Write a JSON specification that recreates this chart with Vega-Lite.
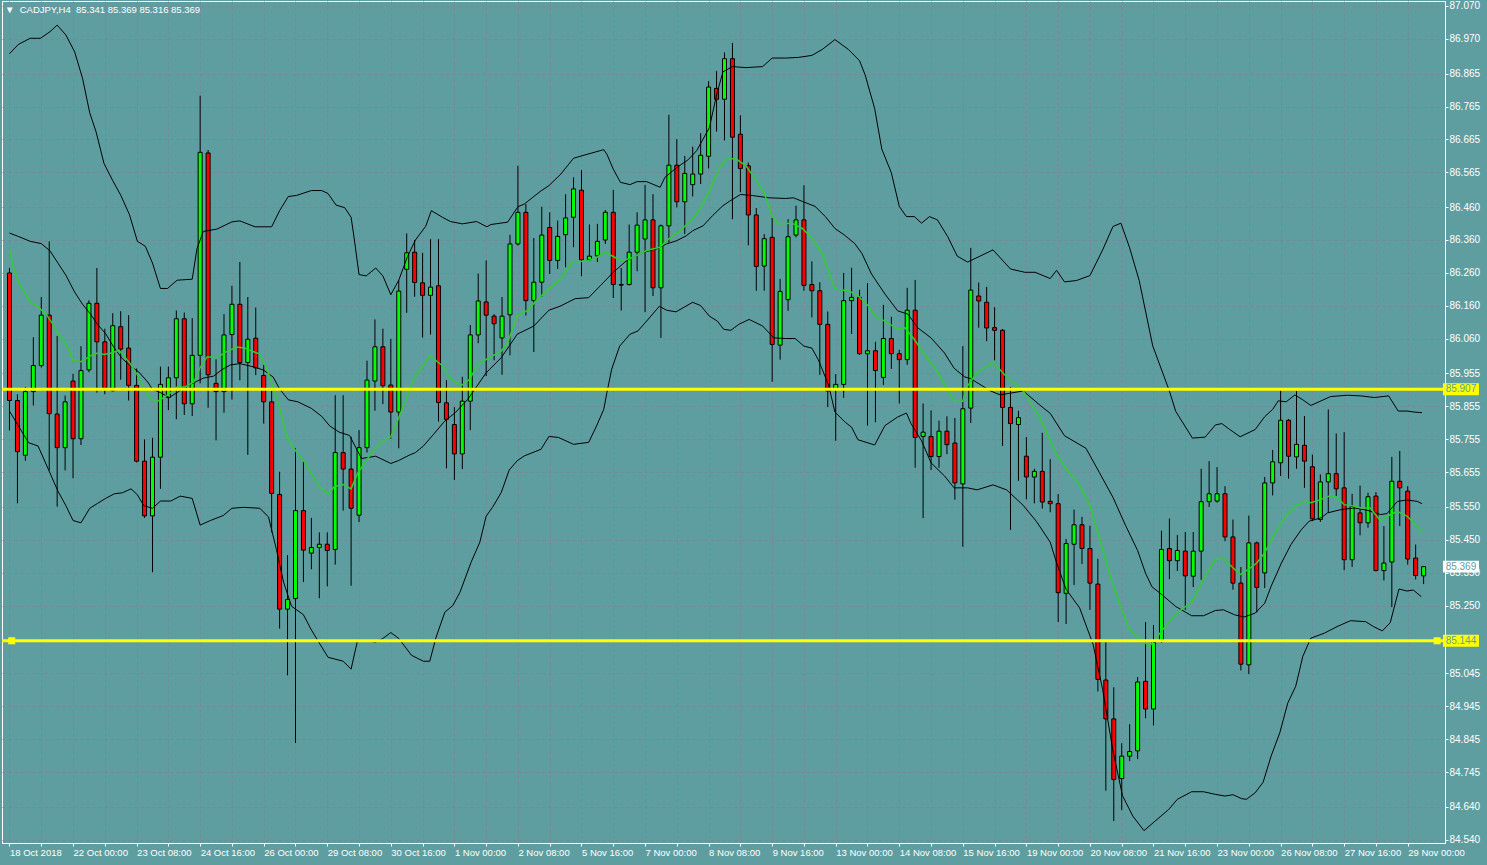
{
"$schema": "https://vega.github.io/schema/vega-lite/v6.json",
"width": 1443, "height": 842,
"autosize": {"type": "none"},
"padding": {"left": 2, "top": 1, "right": 42, "bottom": 22},
"background": "#5F9EA0",
"title": {"text": "▼\u00a0\u00a0CADJPY,H4\u00a0\u00a085.341 85.369 85.316 85.369", "anchor": "start", "frame": "group", "orient": "top", "offset": 0, "dx": 3, "dy": 14, "font": "Liberation Sans", "fontSize": 9.5, "fontWeight": "normal", "color": "white"},
"config": {"view": {"stroke": "white", "strokeWidth": 1}, "font": "Liberation Sans",
  "axis": {"labelOverlap": false, "labelBound": false, "labelFlush": false, "labelSeparation": 0}},
"datasets": {
"candles": [
{"i":0,"o":86.26,"h":86.275,"l":85.782,"c":85.873},{"i":1,"o":85.873,"h":85.892,"l":85.561,"c":85.718},{"i":2,"o":85.707,"h":85.914,"l":85.69,"c":85.9},{"i":3,"o":85.9,"h":86.065,"l":85.858,"c":85.979},{"i":4,"o":85.979,"h":86.187,"l":85.973,"c":86.132},{"i":5,"o":86.132,"h":86.356,"l":85.661,"c":85.833},{"i":6,"o":85.832,"h":86.069,"l":85.551,"c":85.73},{"i":7,"o":85.73,"h":85.888,"l":85.661,"c":85.869},{"i":8,"o":85.932,"h":85.954,"l":85.637,"c":85.757},{"i":9,"o":85.757,"h":86.038,"l":85.738,"c":85.964},
{"i":10,"o":85.966,"h":86.177,"l":85.959,"c":86.168},{"i":11,"o":86.168,"h":86.275,"l":85.897,"c":86.051},{"i":12,"o":86.051,"h":86.091,"l":85.892,"c":85.907},{"i":13,"o":85.903,"h":86.138,"l":85.9,"c":86.1},{"i":14,"o":86.097,"h":86.144,"l":85.936,"c":86.029},{"i":15,"o":86.032,"h":86.132,"l":85.873,"c":85.919},{"i":16,"o":85.919,"h":85.97,"l":85.685,"c":85.689},{"i":17,"o":85.689,"h":85.755,"l":85.517,"c":85.523},{"i":18,"o":85.523,"h":85.76,"l":85.352,"c":85.701},{"i":19,"o":85.701,"h":85.976,"l":85.605,"c":85.922},
{"i":20,"o":85.882,"h":85.976,"l":85.844,"c":85.942},{"i":21,"o":85.942,"h":86.146,"l":85.816,"c":86.121},{"i":22,"o":86.121,"h":86.14,"l":85.829,"c":85.863},{"i":23,"o":85.863,"h":86.123,"l":85.826,"c":86.01},{"i":24,"o":86.01,"h":86.798,"l":85.925,"c":86.626},{"i":25,"o":86.624,"h":86.633,"l":85.851,"c":85.951},{"i":26,"o":85.925,"h":85.998,"l":85.752,"c":85.9},{"i":27,"o":85.9,"h":86.135,"l":85.836,"c":86.072},{"i":28,"o":86.073,"h":86.221,"l":85.876,"c":86.165},{"i":29,"o":86.165,"h":86.293,"l":85.934,"c":85.988},
{"i":30,"o":85.988,"h":86.187,"l":85.708,"c":86.059},{"i":31,"o":86.062,"h":86.155,"l":85.95,"c":85.972},{"i":32,"o":85.949,"h":85.981,"l":85.803,"c":85.869},{"i":33,"o":85.869,"h":85.902,"l":85.473,"c":85.591},{"i":34,"o":85.588,"h":85.657,"l":85.181,"c":85.24},{"i":35,"o":85.24,"h":85.404,"l":85.039,"c":85.269},{"i":36,"o":85.272,"h":85.728,"l":84.834,"c":85.539},{"i":37,"o":85.539,"h":85.691,"l":85.322,"c":85.419},{"i":38,"o":85.41,"h":85.517,"l":85.361,"c":85.427},{"i":39,"o":85.427,"h":85.473,"l":85.273,"c":85.437},
{"i":40,"o":85.437,"h":85.473,"l":85.309,"c":85.418},{"i":41,"o":85.421,"h":85.889,"l":85.375,"c":85.715},{"i":42,"o":85.715,"h":85.889,"l":85.539,"c":85.665},{"i":43,"o":85.665,"h":85.763,"l":85.311,"c":85.546},{"i":44,"o":85.525,"h":85.783,"l":85.504,"c":85.73},{"i":45,"o":85.73,"h":85.994,"l":85.715,"c":85.935},{"i":46,"o":85.932,"h":86.119,"l":85.842,"c":86.036},{"i":47,"o":86.036,"h":86.091,"l":85.862,"c":85.918},{"i":48,"o":85.92,"h":86.06,"l":85.757,"c":85.838},{"i":49,"o":85.838,"h":86.238,"l":85.728,"c":86.205},
{"i":50,"o":86.271,"h":86.38,"l":86.139,"c":86.321},{"i":51,"o":86.323,"h":86.36,"l":86.188,"c":86.231},{"i":52,"o":86.23,"h":86.321,"l":86.064,"c":86.192},{"i":53,"o":86.192,"h":86.363,"l":86.073,"c":86.217},{"i":54,"o":86.221,"h":86.363,"l":85.809,"c":85.867},{"i":55,"o":85.866,"h":85.935,"l":85.667,"c":85.816},{"i":56,"o":85.8,"h":85.853,"l":85.632,"c":85.711},{"i":57,"o":85.711,"h":85.945,"l":85.665,"c":85.871},{"i":58,"o":85.871,"h":86.102,"l":85.783,"c":86.072},{"i":59,"o":86.072,"h":86.258,"l":86.047,"c":86.175},
{"i":60,"o":86.172,"h":86.298,"l":85.947,"c":86.132},{"i":61,"o":86.129,"h":86.135,"l":85.995,"c":86.106},{"i":62,"o":86.063,"h":86.187,"l":85.951,"c":86.129},{"i":63,"o":86.133,"h":86.376,"l":86.01,"c":86.348},{"i":64,"o":86.348,"h":86.585,"l":86.343,"c":86.444},{"i":65,"o":86.444,"h":86.469,"l":86.131,"c":86.176},{"i":66,"o":86.176,"h":86.366,"l":86.02,"c":86.232},{"i":67,"o":86.232,"h":86.461,"l":86.187,"c":86.375},{"i":68,"o":86.398,"h":86.444,"l":86.257,"c":86.298},{"i":69,"o":86.298,"h":86.419,"l":86.272,"c":86.371},
{"i":70,"o":86.376,"h":86.499,"l":86.277,"c":86.427},{"i":71,"o":86.429,"h":86.55,"l":86.338,"c":86.515},{"i":72,"o":86.511,"h":86.572,"l":86.25,"c":86.3},{"i":73,"o":86.3,"h":86.407,"l":86.296,"c":86.311},{"i":74,"o":86.312,"h":86.409,"l":86.293,"c":86.356},{"i":75,"o":86.36,"h":86.451,"l":86.348,"c":86.444},{"i":76,"o":86.444,"h":86.512,"l":86.184,"c":86.225},{"i":77,"o":86.225,"h":86.275,"l":86.146,"c":86.223},{"i":78,"o":86.225,"h":86.407,"l":86.222,"c":86.323},{"i":79,"o":86.323,"h":86.444,"l":86.265,"c":86.405},
{"i":80,"o":86.363,"h":86.527,"l":86.141,"c":86.421},{"i":81,"o":86.421,"h":86.499,"l":86.19,"c":86.215},{"i":82,"o":86.215,"h":86.407,"l":86.063,"c":86.403},{"i":83,"o":86.403,"h":86.74,"l":86.352,"c":86.587},{"i":84,"o":86.587,"h":86.666,"l":86.459,"c":86.476},{"i":85,"o":86.476,"h":86.615,"l":86.378,"c":86.562},{"i":86,"o":86.528,"h":86.643,"l":86.492,"c":86.56},{"i":87,"o":86.56,"h":86.684,"l":86.53,"c":86.617},{"i":88,"o":86.614,"h":86.842,"l":86.577,"c":86.824},{"i":89,"o":86.82,"h":86.873,"l":86.689,"c":86.787},
{"i":90,"o":86.787,"h":86.929,"l":86.662,"c":86.91},{"i":91,"o":86.91,"h":86.958,"l":86.423,"c":86.672},{"i":92,"o":86.681,"h":86.738,"l":86.505,"c":86.577},{"i":93,"o":86.585,"h":86.595,"l":86.344,"c":86.436},{"i":94,"o":86.436,"h":86.457,"l":86.206,"c":86.28},{"i":95,"o":86.281,"h":86.378,"l":86.206,"c":86.364},{"i":96,"o":86.368,"h":86.428,"l":85.93,"c":86.043},{"i":97,"o":86.041,"h":86.242,"l":85.997,"c":86.204},{"i":98,"o":86.179,"h":86.423,"l":86.145,"c":86.37},{"i":99,"o":86.375,"h":86.464,"l":86.368,"c":86.421},
{"i":100,"o":86.421,"h":86.526,"l":86.206,"c":86.222},{"i":101,"o":86.225,"h":86.295,"l":86.125,"c":86.206},{"i":102,"o":86.206,"h":86.232,"l":85.951,"c":86.104},{"i":103,"o":86.104,"h":86.143,"l":85.853,"c":85.902},{"i":104,"o":85.908,"h":85.953,"l":85.751,"c":85.922},{"i":105,"o":85.922,"h":86.26,"l":85.881,"c":86.176},{"i":106,"o":86.176,"h":86.276,"l":86.075,"c":86.186},{"i":107,"o":86.186,"h":86.209,"l":86.012,"c":86.015},{"i":108,"o":86.015,"h":86.229,"l":85.797,"c":86.024},{"i":109,"o":86.024,"h":86.051,"l":85.807,"c":85.964},
{"i":110,"o":85.943,"h":86.163,"l":85.92,"c":86.061},{"i":111,"o":86.061,"h":86.127,"l":85.969,"c":86.015},{"i":112,"o":86.015,"h":86.027,"l":85.864,"c":85.997},{"i":113,"o":85.997,"h":86.215,"l":85.981,"c":86.147},{"i":114,"o":86.147,"h":86.239,"l":85.669,"c":85.761},{"i":115,"o":85.764,"h":85.864,"l":85.516,"c":85.777},{"i":116,"o":85.764,"h":85.843,"l":85.662,"c":85.703},{"i":117,"o":85.703,"h":85.812,"l":85.669,"c":85.78},{"i":118,"o":85.78,"h":85.825,"l":85.71,"c":85.739},{"i":119,"o":85.744,"h":85.82,"l":85.572,"c":85.623},
{"i":120,"o":85.62,"h":86.038,"l":85.429,"c":85.848},{"i":121,"o":85.85,"h":86.336,"l":85.805,"c":86.208},{"i":122,"o":86.19,"h":86.231,"l":86.094,"c":86.175},{"i":123,"o":86.171,"h":86.218,"l":86.053,"c":86.093},{"i":124,"o":86.094,"h":86.156,"l":85.995,"c":86.086},{"i":125,"o":86.086,"h":86.09,"l":85.735,"c":85.852},{"i":126,"o":85.852,"h":85.914,"l":85.48,"c":85.803},{"i":127,"o":85.8,"h":85.842,"l":85.629,"c":85.821},{"i":128,"o":85.704,"h":85.762,"l":85.573,"c":85.641},{"i":129,"o":85.641,"h":85.666,"l":85.561,"c":85.658},
{"i":130,"o":85.658,"h":85.775,"l":85.545,"c":85.565},{"i":131,"o":85.567,"h":85.695,"l":85.534,"c":85.56},{"i":132,"o":85.56,"h":85.589,"l":85.201,"c":85.29},{"i":133,"o":85.288,"h":85.453,"l":85.195,"c":85.439},{"i":134,"o":85.437,"h":85.542,"l":85.313,"c":85.496},{"i":135,"o":85.496,"h":85.52,"l":85.377,"c":85.424},{"i":136,"o":85.424,"h":85.493,"l":85.238,"c":85.319},{"i":137,"o":85.316,"h":85.393,"l":84.99,"c":85.027},{"i":138,"o":85.025,"h":85.145,"l":84.689,"c":84.907},{"i":139,"o":84.907,"h":85.003,"l":84.597,"c":84.723},
{"i":140,"o":84.726,"h":84.833,"l":84.63,"c":84.794},{"i":141,"o":84.794,"h":84.891,"l":84.779,"c":84.808},{"i":142,"o":84.81,"h":85.034,"l":84.785,"c":85.019},{"i":143,"o":85.021,"h":85.201,"l":84.909,"c":84.937},{"i":144,"o":84.937,"h":85.192,"l":84.887,"c":85.139},{"i":145,"o":85.142,"h":85.478,"l":85.138,"c":85.421},{"i":146,"o":85.424,"h":85.515,"l":85.331,"c":85.387},{"i":147,"o":85.387,"h":85.465,"l":85.356,"c":85.418},{"i":148,"o":85.416,"h":85.474,"l":85.238,"c":85.341},{"i":149,"o":85.34,"h":85.474,"l":85.307,"c":85.416},
{"i":150,"o":85.416,"h":85.666,"l":85.329,"c":85.566},{"i":151,"o":85.566,"h":85.689,"l":85.55,"c":85.59},{"i":152,"o":85.568,"h":85.671,"l":85.563,"c":85.59},{"i":153,"o":85.59,"h":85.613,"l":85.446,"c":85.459},{"i":154,"o":85.459,"h":85.512,"l":85.299,"c":85.319},{"i":155,"o":85.319,"h":85.368,"l":85.054,"c":85.073},{"i":156,"o":85.071,"h":85.524,"l":85.043,"c":85.441},{"i":157,"o":85.441,"h":85.445,"l":85.23,"c":85.306},{"i":158,"o":85.35,"h":85.641,"l":85.304,"c":85.623},{"i":159,"o":85.623,"h":85.723,"l":85.585,"c":85.687},
{"i":160,"o":85.684,"h":85.909,"l":85.644,"c":85.813},{"i":161,"o":85.813,"h":85.817,"l":85.636,"c":85.704},{"i":162,"o":85.702,"h":85.902,"l":85.666,"c":85.74},{"i":163,"o":85.737,"h":85.826,"l":85.608,"c":85.689},{"i":164,"o":85.672,"h":85.709,"l":85.507,"c":85.514},{"i":165,"o":85.512,"h":85.649,"l":85.505,"c":85.626},{"i":166,"o":85.626,"h":85.846,"l":85.532,"c":85.651},{"i":167,"o":85.651,"h":85.773,"l":85.583,"c":85.605},{"i":168,"o":85.608,"h":85.777,"l":85.358,"c":85.39},{"i":169,"o":85.39,"h":85.59,"l":85.368,"c":85.552},
{"i":170,"o":85.532,"h":85.615,"l":85.464,"c":85.502},{"i":171,"o":85.502,"h":85.593,"l":85.487,"c":85.581},{"i":172,"o":85.583,"h":85.595,"l":85.355,"c":85.357},{"i":173,"o":85.357,"h":85.492,"l":85.327,"c":85.38},{"i":174,"o":85.383,"h":85.702,"l":85.246,"c":85.628},{"i":175,"o":85.628,"h":85.72,"l":85.492,"c":85.608},{"i":176,"o":85.598,"h":85.613,"l":85.375,"c":85.392},{"i":177,"o":85.395,"h":85.436,"l":85.33,"c":85.342},{"i":178,"o":85.341,"h":85.369,"l":85.316,"c":85.369}
],
"bb": [
{"s":"u","i":0,"v":86.925},{"s":"u","i":1.1,"v":86.953},{"s":"u","i":2.6,"v":86.972},{"s":"u","i":3.9,"v":86.972},{"s":"u","i":5.1,"v":86.992},{"s":"u","i":6.0,"v":87.012},{"s":"u","i":7.1,"v":86.982},{"s":"u","i":8.2,"v":86.931},{"s":"u","i":9.2,"v":86.85},{"s":"u","i":10.1,"v":86.746},{"s":"u","i":10.9,"v":86.688},{"s":"u","i":11.9,"v":86.592},{"s":"u","i":13,"v":86.54},{"s":"u","i":14,"v":86.496},{"s":"u","i":15.1,"v":86.437},{"s":"u","i":16.1,"v":86.356},{"s":"u","i":17.1,"v":86.341},{"s":"u","i":18,"v":86.29},{"s":"u","i":19,"v":86.213},{"s":"u","i":19.9,"v":86.213},{"s":"u","i":21.1,"v":86.238},{"s":"u","i":23,"v":86.241},{"s":"u","i":23.6,"v":86.334},{"s":"u","i":24.4,"v":86.386},{"s":"u","i":26.1,"v":86.393},{"s":"u","i":28,"v":86.415},{"s":"u","i":29,"v":86.418},{"s":"u","i":30.9,"v":86.4},{"s":"u","i":33,"v":86.4},{"s":"u","i":34,"v":86.449},{"s":"u","i":35.1,"v":86.492},{"s":"u","i":36.1,"v":86.495},{"s":"u","i":38,"v":86.51},{"s":"u","i":39.3,"v":86.51},{"s":"u","i":40.1,"v":86.501},{"s":"u","i":41.1,"v":86.466},{"s":"u","i":42.2,"v":86.458},{"s":"u","i":43,"v":86.429},{"s":"u","i":43.4,"v":86.363},{"s":"u","i":44,"v":86.255},{"s":"u","i":44.9,"v":86.251},{"s":"u","i":46.1,"v":86.275},{"s":"u","i":47,"v":86.251},{"s":"u","i":48,"v":86.194},{"s":"u","i":49,"v":86.238},{"s":"u","i":50.1,"v":86.31},{"s":"u","i":51.1,"v":86.36},{"s":"u","i":52.4,"v":86.402},{"s":"u","i":53.1,"v":86.449},{"s":"u","i":54.5,"v":86.429},{"s":"u","i":55.5,"v":86.416},{"s":"u","i":57,"v":86.409},{"s":"u","i":58.8,"v":86.416},{"s":"u","i":60.1,"v":86.4},{"s":"u","i":60.6,"v":86.407},{"s":"u","i":62.7,"v":86.414},{"s":"u","i":64,"v":86.461},{"s":"u","i":64.8,"v":86.469},{"s":"u","i":66.9,"v":86.509},{"s":"u","i":67.9,"v":86.525},{"s":"u","i":69.4,"v":86.56},{"s":"u","i":70.4,"v":86.59},{"s":"u","i":71,"v":86.608},{"s":"u","i":72.7,"v":86.62},{"s":"u","i":74.8,"v":86.634},{"s":"u","i":75.2,"v":86.62},{"s":"u","i":76,"v":86.575},{"s":"u","i":76.9,"v":86.535},{"s":"u","i":78.1,"v":86.528},{"s":"u","i":79,"v":86.537},{"s":"u","i":80.2,"v":86.537},{"s":"u","i":81.9,"v":86.52},{"s":"u","i":82.5,"v":86.55},{"s":"u","i":84,"v":86.58},{"s":"u","i":85.4,"v":86.603},{"s":"u","i":86.5,"v":86.631},{"s":"u","i":88.1,"v":86.701},{"s":"u","i":89,"v":86.8},{"s":"u","i":89.8,"v":86.87},{"s":"u","i":91,"v":86.886},{"s":"u","i":92.7,"v":86.883},{"s":"u","i":94.8,"v":86.886},{"s":"u","i":96,"v":86.912},{"s":"u","i":97.7,"v":86.912},{"s":"u","i":99.3,"v":86.914},{"s":"u","i":101,"v":86.92},{"s":"u","i":102.3,"v":86.938},{"s":"u","i":103.9,"v":86.968},{"s":"u","i":105.6,"v":86.938},{"s":"u","i":107,"v":86.904},{"s":"u","i":107.7,"v":86.861},{"s":"u","i":108.9,"v":86.759},{"s":"u","i":109.8,"v":86.636},{"s":"u","i":111,"v":86.564},{"s":"u","i":112,"v":86.462},{"s":"u","i":112.9,"v":86.431},{"s":"u","i":113.9,"v":86.431},{"s":"u","i":114.8,"v":86.411},{"s":"u","i":115.8,"v":86.431},{"s":"u","i":116.8,"v":86.421},{"s":"u","i":118.1,"v":86.37},{"s":"u","i":119.3,"v":86.311},{"s":"u","i":120.6,"v":86.293},{"s":"u","i":123.8,"v":86.33},{"s":"u","i":126,"v":86.272},{"s":"u","i":127.8,"v":86.262},{"s":"u","i":129.1,"v":86.262},{"s":"u","i":131,"v":86.243},{"s":"u","i":131.8,"v":86.268},{"s":"u","i":132.8,"v":86.233},{"s":"u","i":134.3,"v":86.237},{"s":"u","i":136,"v":86.252},{"s":"u","i":137.6,"v":86.33},{"s":"u","i":138.9,"v":86.401},{"s":"u","i":139.9,"v":86.411},{"s":"u","i":141,"v":86.336},{"s":"u","i":142.2,"v":86.237},{"s":"u","i":143.9,"v":86.039},{"s":"u","i":146,"v":85.902},{"s":"u","i":146.8,"v":85.84},{"s":"u","i":148.9,"v":85.759},{"s":"u","i":150.5,"v":85.762},{"s":"u","i":151.8,"v":85.799},{"s":"u","i":152.6,"v":85.803},{"s":"u","i":153.6,"v":85.785},{"s":"u","i":154.9,"v":85.763},{"s":"u","i":156.8,"v":85.785},{"s":"u","i":158,"v":85.824},{"s":"u","i":159,"v":85.846},{"s":"u","i":159.7,"v":85.872},{"s":"u","i":160.7,"v":85.869},{"s":"u","i":161.8,"v":85.89},{"s":"u","i":162.8,"v":85.875},{"s":"u","i":163.8,"v":85.858},{"s":"u","i":165.1,"v":85.872},{"s":"u","i":166.3,"v":85.885},{"s":"u","i":168.4,"v":85.889},{"s":"u","i":170.1,"v":85.887},{"s":"u","i":171.8,"v":85.882},{"s":"u","i":173.6,"v":85.887},{"s":"u","i":174.8,"v":85.841},{"s":"u","i":175.9,"v":85.841},{"s":"u","i":176.8,"v":85.838},{"s":"u","i":177.8,"v":85.836},
{"s":"m","i":0,"v":86.381},{"s":"m","i":1.1,"v":86.371},{"s":"m","i":2.6,"v":86.356},{"s":"m","i":4,"v":86.349},{"s":"m","i":5.1,"v":86.327},{"s":"m","i":6.1,"v":86.29},{"s":"m","i":7.1,"v":86.253},{"s":"m","i":8.2,"v":86.202},{"s":"m","i":9.2,"v":86.165},{"s":"m","i":10.3,"v":86.132},{"s":"m","i":11.1,"v":86.103},{"s":"m","i":12.1,"v":86.076},{"s":"m","i":13.2,"v":86.032},{"s":"m","i":14.2,"v":86.0},{"s":"m","i":15.3,"v":85.976},{"s":"m","i":16.3,"v":85.959},{"s":"m","i":17.4,"v":85.929},{"s":"m","i":18,"v":85.907},{"s":"m","i":19,"v":85.897},{"s":"m","i":20.1,"v":85.882},{"s":"m","i":21.1,"v":85.897},{"s":"m","i":22.1,"v":85.914},{"s":"m","i":23.4,"v":85.929},{"s":"m","i":24.4,"v":85.941},{"s":"m","i":25.7,"v":85.947},{"s":"m","i":26.7,"v":85.966},{"s":"m","i":27.8,"v":85.981},{"s":"m","i":29,"v":85.985},{"s":"m","i":30.9,"v":85.974},{"s":"m","i":32,"v":85.965},{"s":"m","i":33.2,"v":85.944},{"s":"m","i":34,"v":85.908},{"s":"m","i":35.1,"v":85.875},{"s":"m","i":36.3,"v":85.869},{"s":"m","i":38,"v":85.849},{"s":"m","i":39.3,"v":85.825},{"s":"m","i":40.3,"v":85.796},{"s":"m","i":41.5,"v":85.777},{"s":"m","i":42.8,"v":85.767},{"s":"m","i":43.6,"v":85.73},{"s":"m","i":44.3,"v":85.697},{"s":"m","i":46.1,"v":85.704},{"s":"m","i":48,"v":85.682},{"s":"m","i":49,"v":85.691},{"s":"m","i":50.3,"v":85.707},{"s":"m","i":51.1,"v":85.715},{"s":"m","i":52.1,"v":85.735},{"s":"m","i":53.4,"v":85.771},{"s":"m","i":54.8,"v":85.811},{"s":"m","i":56.1,"v":85.836},{"s":"m","i":57.7,"v":85.877},{"s":"m","i":60,"v":85.957},{"s":"m","i":61.9,"v":86.003},{"s":"m","i":62.9,"v":86.038},{"s":"m","i":63.9,"v":86.074},{"s":"m","i":66,"v":86.099},{"s":"m","i":67.9,"v":86.147},{"s":"m","i":69.3,"v":86.159},{"s":"m","i":71.2,"v":86.182},{"s":"m","i":72.9,"v":86.185},{"s":"m","i":74.4,"v":86.222},{"s":"m","i":76,"v":86.262},{"s":"m","i":77.7,"v":86.298},{"s":"m","i":79.8,"v":86.323},{"s":"m","i":81.5,"v":86.333},{"s":"m","i":82.7,"v":86.348},{"s":"m","i":84,"v":86.358},{"s":"m","i":85.2,"v":86.373},{"s":"m","i":86,"v":86.388},{"s":"m","i":87.3,"v":86.403},{"s":"m","i":88.5,"v":86.434},{"s":"m","i":89.8,"v":86.464},{"s":"m","i":90.6,"v":86.477},{"s":"m","i":92,"v":86.498},{"s":"m","i":93.5,"v":86.495},{"s":"m","i":95.6,"v":86.488},{"s":"m","i":97.7,"v":86.486},{"s":"m","i":98.7,"v":86.488},{"s":"m","i":99.8,"v":86.477},{"s":"m","i":101.4,"v":86.462},{"s":"m","i":102.7,"v":86.431},{"s":"m","i":103.9,"v":86.395},{"s":"m","i":105.1,"v":86.375},{"s":"m","i":106.4,"v":86.349},{"s":"m","i":107.3,"v":86.319},{"s":"m","i":108.5,"v":86.257},{"s":"m","i":110.2,"v":86.196},{"s":"m","i":111.8,"v":86.145},{"s":"m","i":113.1,"v":86.135},{"s":"m","i":114.3,"v":86.094},{"s":"m","i":116,"v":86.063},{"s":"m","i":117.7,"v":86.017},{"s":"m","i":118.9,"v":85.971},{"s":"m","i":120.2,"v":85.945},{"s":"m","i":121,"v":85.939},{"s":"m","i":123.5,"v":85.902},{"s":"m","i":124.7,"v":85.89},{"s":"m","i":127.6,"v":85.902},{"s":"m","i":129.7,"v":85.859},{"s":"m","i":131,"v":85.834},{"s":"m","i":132.8,"v":85.766},{"s":"m","i":135.5,"v":85.728},{"s":"m","i":137.2,"v":85.654},{"s":"m","i":138.9,"v":85.579},{"s":"m","i":140.5,"v":85.493},{"s":"m","i":142,"v":85.418},{"s":"m","i":143,"v":85.349},{"s":"m","i":143.8,"v":85.308},{"s":"m","i":145.1,"v":85.283},{"s":"m","i":146.8,"v":85.248},{"s":"m","i":148.8,"v":85.22},{"s":"m","i":150.3,"v":85.22},{"s":"m","i":151.8,"v":85.236},{"s":"m","i":152.8,"v":85.238},{"s":"m","i":154.2,"v":85.223},{"s":"m","i":155.4,"v":85.216},{"s":"m","i":156.8,"v":85.228},{"s":"m","i":158,"v":85.258},{"s":"m","i":158.8,"v":85.309},{"s":"m","i":160.1,"v":85.38},{"s":"m","i":161.3,"v":85.436},{"s":"m","i":162.6,"v":85.481},{"s":"m","i":163.6,"v":85.507},{"s":"m","i":165.1,"v":85.517},{"s":"m","i":165.9,"v":85.532},{"s":"m","i":167.6,"v":85.542},{"s":"m","i":169.3,"v":85.547},{"s":"m","i":170.9,"v":85.54},{"s":"m","i":172.6,"v":85.527},{"s":"m","i":173.4,"v":85.53},{"s":"m","i":174.7,"v":85.567},{"s":"m","i":175.9,"v":85.571},{"s":"m","i":177.2,"v":85.567},{"s":"m","i":177.8,"v":85.56},
{"s":"d","i":0,"v":85.841},{"s":"d","i":1.1,"v":85.797},{"s":"d","i":2.4,"v":85.745},{"s":"d","i":3.6,"v":85.735},{"s":"d","i":4.9,"v":85.664},{"s":"d","i":6.1,"v":85.598},{"s":"d","i":7.1,"v":85.554},{"s":"d","i":8,"v":85.509},{"s":"d","i":9,"v":85.502},{"s":"d","i":10.1,"v":85.546},{"s":"d","i":11.1,"v":85.561},{"s":"d","i":12.1,"v":85.576},{"s":"d","i":13.2,"v":85.59},{"s":"d","i":14.2,"v":85.593},{"s":"d","i":15.3,"v":85.605},{"s":"d","i":16.1,"v":85.587},{"s":"d","i":16.9,"v":85.554},{"s":"d","i":18,"v":85.546},{"s":"d","i":19,"v":85.568},{"s":"d","i":20.3,"v":85.568},{"s":"d","i":21.5,"v":85.583},{"s":"d","i":23,"v":85.576},{"s":"d","i":24,"v":85.495},{"s":"d","i":25.3,"v":85.509},{"s":"d","i":26.9,"v":85.524},{"s":"d","i":28,"v":85.546},{"s":"d","i":29.5,"v":85.549},{"s":"d","i":31.5,"v":85.546},{"s":"d","i":32.6,"v":85.52},{"s":"d","i":33.6,"v":85.421},{"s":"d","i":34.5,"v":85.322},{"s":"d","i":35.5,"v":85.249},{"s":"d","i":37,"v":85.223},{"s":"d","i":38,"v":85.177},{"s":"d","i":39,"v":85.137},{"s":"d","i":40.1,"v":85.094},{"s":"d","i":42,"v":85.082},{"s":"d","i":43,"v":85.058},{"s":"d","i":43.8,"v":85.144},{"s":"d","i":44.9,"v":85.144},{"s":"d","i":46.1,"v":85.14},{"s":"d","i":47,"v":85.151},{"s":"d","i":48,"v":85.169},{"s":"d","i":49,"v":85.151},{"s":"d","i":50.6,"v":85.1},{"s":"d","i":52.1,"v":85.082},{"s":"d","i":52.9,"v":85.082},{"s":"d","i":53.7,"v":85.155},{"s":"d","i":54.8,"v":85.231},{"s":"d","i":55.8,"v":85.251},{"s":"d","i":56.7,"v":85.291},{"s":"d","i":58.1,"v":85.382},{"s":"d","i":59.2,"v":85.443},{"s":"d","i":60,"v":85.522},{"s":"d","i":60.8,"v":85.549},{"s":"d","i":61.9,"v":85.594},{"s":"d","i":62.9,"v":85.662},{"s":"d","i":63.9,"v":85.69},{"s":"d","i":64.8,"v":85.705},{"s":"d","i":66.9,"v":85.725},{"s":"d","i":67.9,"v":85.764},{"s":"d","i":69.1,"v":85.761},{"s":"d","i":71,"v":85.74},{"s":"d","i":72.9,"v":85.746},{"s":"d","i":73.9,"v":85.796},{"s":"d","i":74.8,"v":85.846},{"s":"d","i":75.2,"v":85.897},{"s":"d","i":75.8,"v":85.968},{"s":"d","i":76.8,"v":86.038},{"s":"d","i":78.1,"v":86.074},{"s":"d","i":79.1,"v":86.084},{"s":"d","i":80.2,"v":86.114},{"s":"d","i":81.8,"v":86.159},{"s":"d","i":82.7,"v":86.147},{"s":"d","i":83.9,"v":86.142},{"s":"d","i":86,"v":86.171},{"s":"d","i":87,"v":86.161},{"s":"d","i":88.1,"v":86.129},{"s":"d","i":89.1,"v":86.114},{"s":"d","i":89.9,"v":86.089},{"s":"d","i":90.8,"v":86.086},{"s":"d","i":91.8,"v":86.104},{"s":"d","i":93.1,"v":86.119},{"s":"d","i":94.8,"v":86.099},{"s":"d","i":96.2,"v":86.063},{"s":"d","i":97.7,"v":86.061},{"s":"d","i":98.9,"v":86.061},{"s":"d","i":100,"v":86.038},{"s":"d","i":101,"v":86.032},{"s":"d","i":101.8,"v":85.997},{"s":"d","i":103.1,"v":85.92},{"s":"d","i":103.9,"v":85.838},{"s":"d","i":105.2,"v":85.807},{"s":"d","i":106,"v":85.792},{"s":"d","i":106.8,"v":85.754},{"s":"d","i":108.9,"v":85.738},{"s":"d","i":110.2,"v":85.797},{"s":"d","i":111.8,"v":85.823},{"s":"d","i":112.9,"v":85.835},{"s":"d","i":113.5,"v":85.802},{"s":"d","i":114.8,"v":85.751},{"s":"d","i":116,"v":85.684},{"s":"d","i":117.7,"v":85.644},{"s":"d","i":118.9,"v":85.608},{"s":"d","i":120.6,"v":85.608},{"s":"d","i":121.8,"v":85.602},{"s":"d","i":123.8,"v":85.617},{"s":"d","i":125.5,"v":85.602},{"s":"d","i":127.6,"v":85.555},{"s":"d","i":129.3,"v":85.505},{"s":"d","i":131,"v":85.443},{"s":"d","i":131.8,"v":85.381},{"s":"d","i":133,"v":85.3},{"s":"d","i":134.7,"v":85.244},{"s":"d","i":136.4,"v":85.133},{"s":"d","i":137.6,"v":84.996},{"s":"d","i":138.9,"v":84.81},{"s":"d","i":140.1,"v":84.674},{"s":"d","i":141.4,"v":84.612},{"s":"d","i":142.8,"v":84.568},{"s":"d","i":144.3,"v":84.599},{"s":"d","i":145.9,"v":84.632},{"s":"d","i":147,"v":84.663},{"s":"d","i":148.8,"v":84.686},{"s":"d","i":150.3,"v":84.686},{"s":"d","i":151.8,"v":84.678},{"s":"d","i":153,"v":84.673},{"s":"d","i":154,"v":84.677},{"s":"d","i":155.1,"v":84.665},{"s":"d","i":155.7,"v":84.663},{"s":"d","i":156.8,"v":84.683},{"s":"d","i":157.8,"v":84.715},{"s":"d","i":158.8,"v":84.794},{"s":"d","i":159.9,"v":84.865},{"s":"d","i":160.9,"v":84.955},{"s":"d","i":161.9,"v":85.006},{"s":"d","i":162.8,"v":85.097},{"s":"d","i":163.8,"v":85.152},{"s":"d","i":165.5,"v":85.167},{"s":"d","i":167.1,"v":85.187},{"s":"d","i":168.8,"v":85.205},{"s":"d","i":170.7,"v":85.202},{"s":"d","i":171.7,"v":85.187},{"s":"d","i":172.8,"v":85.174},{"s":"d","i":173.8,"v":85.199},{"s":"d","i":174.9,"v":85.301},{"s":"d","i":175.9,"v":85.295},{"s":"d","i":176.7,"v":85.298},{"s":"d","i":177.7,"v":85.278}
],
"ma": [
{"i":0,"v":86.327},{"i":0.5,"v":86.275},{"i":1.3,"v":86.224},{"i":2.6,"v":86.172},{"i":3.6,"v":86.157},{"i":4.6,"v":86.135},{"i":5.5,"v":86.103},{"i":6.1,"v":86.076},{"i":7.1,"v":86.047},{"i":8,"v":85.995},{"i":9,"v":85.991},{"i":10.3,"v":86.01},{"i":11.1,"v":86.017},{"i":11.9,"v":86.013},{"i":12.8,"v":86.017},{"i":13.8,"v":86.025},{"i":15.1,"v":85.988},{"i":16.1,"v":85.951},{"i":17,"v":85.907},{"i":17.8,"v":85.878},{"i":18.6,"v":85.87},{"i":19.4,"v":85.882},{"i":20.3,"v":85.897},{"i":21.1,"v":85.914},{"i":22.1,"v":85.914},{"i":23.2,"v":85.929},{"i":24,"v":85.973},{"i":24.9,"v":86.006},{"i":26.1,"v":86.003},{"i":27.2,"v":86.02},{"i":28.6,"v":86.035},{"i":29.6,"v":86.032},{"i":30.5,"v":86.023},{"i":31.5,"v":86.014},{"i":32.2,"v":85.981},{"i":33,"v":85.928},{"i":34,"v":85.849},{"i":34.9,"v":85.763},{"i":36.1,"v":85.717},{"i":37,"v":85.691},{"i":38,"v":85.651},{"i":39,"v":85.612},{"i":40.1,"v":85.589},{"i":40.9,"v":85.612},{"i":42,"v":85.618},{"i":43,"v":85.605},{"i":43.8,"v":85.651},{"i":44.9,"v":85.691},{"i":45.9,"v":85.724},{"i":47,"v":85.75},{"i":48,"v":85.763},{"i":48.8,"v":85.809},{"i":49.9,"v":85.875},{"i":50.9,"v":85.941},{"i":51.9,"v":85.973},{"i":52.9,"v":86.01},{"i":54.4,"v":85.98},{"i":55.6,"v":85.937},{"i":56.9,"v":85.919},{"i":57.9,"v":85.937},{"i":58.9,"v":85.98},{"i":60,"v":85.998},{"i":61.9,"v":86.023},{"i":62.7,"v":86.048},{"i":63.9,"v":86.131},{"i":65.2,"v":86.146},{"i":66.3,"v":86.176},{"i":67.7,"v":86.207},{"i":69.4,"v":86.242},{"i":70.8,"v":86.293},{"i":72.7,"v":86.296},{"i":74,"v":86.308},{"i":74.9,"v":86.323},{"i":76,"v":86.31},{"i":76.9,"v":86.298},{"i":78.1,"v":86.303},{"i":80.2,"v":86.328},{"i":81.9,"v":86.338},{"i":82.7,"v":86.358},{"i":84.4,"v":86.388},{"i":86,"v":86.424},{"i":86.9,"v":86.454},{"i":88.1,"v":86.509},{"i":89.4,"v":86.58},{"i":90.2,"v":86.605},{"i":91.4,"v":86.607},{"i":92.7,"v":86.585},{"i":93.9,"v":86.544},{"i":95,"v":86.503},{"i":96,"v":86.431},{"i":96.8,"v":86.409},{"i":98.5,"v":86.411},{"i":99.8,"v":86.395},{"i":101,"v":86.365},{"i":102.3,"v":86.319},{"i":103.5,"v":86.237},{"i":103.9,"v":86.211},{"i":105.6,"v":86.206},{"i":106.8,"v":86.191},{"i":108.1,"v":86.16},{"i":108.9,"v":86.129},{"i":110.2,"v":86.114},{"i":111.8,"v":86.089},{"i":112.7,"v":86.094},{"i":113.9,"v":86.058},{"i":115.2,"v":86.012},{"i":116.8,"v":85.961},{"i":118.1,"v":85.905},{"i":118.9,"v":85.871},{"i":120,"v":85.871},{"i":120.5,"v":85.914},{"i":121.8,"v":85.958},{"i":123.8,"v":85.989},{"i":125.5,"v":85.945},{"i":127.6,"v":85.902},{"i":129.7,"v":85.821},{"i":131.8,"v":85.71},{"i":133,"v":85.666},{"i":134.7,"v":85.617},{"i":136,"v":85.555},{"i":137.2,"v":85.455},{"i":138.5,"v":85.344},{"i":139.7,"v":85.257},{"i":141,"v":85.176},{"i":142.6,"v":85.145},{"i":143.5,"v":85.127},{"i":145.1,"v":85.176},{"i":146.8,"v":85.226},{"i":148.9,"v":85.263},{"i":150.5,"v":85.34},{"i":151.8,"v":85.39},{"i":152.8,"v":85.393},{"i":153.8,"v":85.37},{"i":154.9,"v":85.345},{"i":155.9,"v":85.36},{"i":157,"v":85.38},{"i":158,"v":85.411},{"i":159.3,"v":85.471},{"i":160.5,"v":85.517},{"i":161.8,"v":85.552},{"i":163,"v":85.568},{"i":163.8,"v":85.563},{"i":165.1,"v":85.573},{"i":166.3,"v":85.585},{"i":167.2,"v":85.578},{"i":168,"v":85.557},{"i":169.3,"v":85.552},{"i":170.1,"v":85.547},{"i":171.3,"v":85.547},{"i":172.6,"v":85.507},{"i":173.4,"v":85.522},{"i":174.7,"v":85.537},{"i":175.9,"v":85.522},{"i":176.8,"v":85.502},{"i":177.8,"v":85.473}
],
"levels": [{"v":85.907},{"v":85.144}],
"tags": [{"v":85.907,"k":"lv"},{"v":85.144,"k":"lv"},{"v":85.369,"k":"bid"}]
},
"layer": [
{"data": {"name": "candles"},
 "mark": {"type": "rule", "color": "black", "strokeWidth": 1},
 "encoding": {
  "x": {"field": "i", "type": "quantitative", "title": null, "scale": {"domain": [-0.3125, 180.0625], "nice": false, "zero": false},
   "axis": {"values": [0,4,8,12,16,20,24,28,32,36,40,44,48,52,56,60,64,68,72,76,80,84,88,92,96,100,104,108,112,116,120,124,128,132,136,140,144,148,152,156,160,164,168,172,176],
    "tickCount": 200,
    "labelExpr": "datum.value % 8 === 0 ? ['18 Oct 2018','22 Oct 00:00','23 Oct 08:00','24 Oct 16:00','26 Oct 00:00','29 Oct 08:00','30 Oct 16:00','1 Nov 00:00','2 Nov 08:00','5 Nov 16:00','7 Nov 00:00','8 Nov 08:00','9 Nov 16:00','13 Nov 00:00','14 Nov 08:00','15 Nov 16:00','19 Nov 00:00','20 Nov 08:00','21 Nov 16:00','23 Nov 00:00','26 Nov 08:00','27 Nov 16:00','29 Nov 00:00'][datum.value / 8] : ''",
    "grid": true, "gridColor": "#778899", "gridDash": [3,3], "gridWidth": 1,
    "domainColor": "white", "tickColor": "white", "tickSize": 3,
    "labelColor": "white", "labelFont": "Liberation Sans", "labelFontSize": 9.5,
    "labelAlign": "left", "labelBaseline": "top", "labelPadding": 1, "labelOffset": 0,
    "labelOverlap": false, "labelFlush": false, "labelBound": false, "title": null}},
  "y": {"field": "l", "type": "quantitative", "title": null, "scale": {"domain": [84.5305, 87.0851], "nice": false, "zero": false},
   "axis": {"orient": "right", "values": [84.54,84.64,84.745,84.845,84.945,85.045,85.25,85.35,85.45,85.55,85.655,85.755,85.855,85.955,86.06,86.16,86.26,86.36,86.46,86.565,86.665,86.765,86.865,86.97,87.07],
    "tickCount": 200,
    "format": ".3f", "grid": true, "gridColor": "#778899", "gridDash": [3,3], "gridWidth": 1,
    "domainColor": "white", "tickColor": "white", "tickSize": 3,
    "labelColor": "white", "labelFont": "Liberation Sans", "labelFontSize": 10,
    "labelAlign": "left", "labelBaseline": "middle", "labelPadding": 1,
    "labelOverlap": false, "labelFlush": false, "labelBound": false, "title": null}},
  "y2": {"field": "h"}
 }},
{"data": {"name": "candles"},
 "mark": {"type": "bar", "width": 4, "stroke": "black", "strokeWidth": 1},
 "encoding": {
  "x": {"field": "i", "type": "quantitative", "title": null, "scale": {"domain": [-0.3125, 180.0625], "nice": false, "zero": false}},
  "y": {"field": "o", "type": "quantitative", "title": null, "scale": {"domain": [84.5305, 87.0851], "nice": false, "zero": false}},
  "y2": {"field": "c"},
  "color": {"condition": {"test": "datum.c >= datum.o", "value": "#00FF00"}, "value": "#FF0000"}
 }},
{"data": {"name": "bb"},
 "mark": {"type": "line", "color": "black", "strokeWidth": 1},
 "encoding": {
  "x": {"field": "i", "type": "quantitative", "title": null, "scale": {"domain": [-0.3125, 180.0625], "nice": false, "zero": false}},
  "y": {"field": "v", "type": "quantitative", "title": null, "scale": {"domain": [84.5305, 87.0851], "nice": false, "zero": false}},
  "detail": {"field": "s", "type": "nominal"}
 }},
{"data": {"name": "ma"},
 "mark": {"type": "line", "color": "#32CD32", "strokeWidth": 1.5},
 "encoding": {
  "x": {"field": "i", "type": "quantitative", "title": null, "scale": {"domain": [-0.3125, 180.0625], "nice": false, "zero": false}},
  "y": {"field": "v", "type": "quantitative", "title": null, "scale": {"domain": [84.5305, 87.0851], "nice": false, "zero": false}}
 }},
{"data": {"name": "levels"},
 "mark": {"type": "rule", "color": "#FFFF00", "strokeWidth": 3},
 "encoding": {
  "y": {"field": "v", "type": "quantitative", "title": null, "scale": {"domain": [84.5305, 87.0851], "nice": false, "zero": false}}
 }},
{"data": {"values": [{"a": 0.28, "v": 85.144}, {"a": 179.7, "v": 85.144}]},
 "mark": {"type": "point", "shape": "square", "filled": true, "color": "#FFFF00", "size": 49, "opacity": 1, "clip": false},
 "encoding": {
  "x": {"field": "a", "type": "quantitative", "title": null, "scale": {"domain": [-0.3125, 180.0625], "nice": false, "zero": false}},
  "y": {"field": "v", "type": "quantitative", "title": null, "scale": {"domain": [84.5305, 87.0851], "nice": false, "zero": false}}
 }},
{"data": {"name": "tags"},
 "mark": {"type": "point", "shape": "M-1,-0.333L1,-0.333L1,0.333L-1,0.333Z", "filled": true, "size": 1296, "opacity": 1, "strokeWidth": 0, "clip": false},
 "encoding": {
  "x": {"datum": 182.7, "type": "quantitative", "title": null, "scale": {"domain": [-0.3125, 180.0625], "nice": false, "zero": false}},
  "y": {"field": "v", "type": "quantitative", "title": null, "scale": {"domain": [84.5305, 87.0851], "nice": false, "zero": false}},
  "color": {"field": "k", "type": "nominal", "scale": {"domain": ["lv", "bid"], "range": ["#FFFF00", "#FFFFFF"]}, "legend": null}
 }},
{"data": {"name": "tags"},
 "mark": {"type": "text", "align": "center", "baseline": "middle", "font": "Liberation Sans", "fontSize": 10, "fill": "#5F9EA0", "clip": false},
 "encoding": {
  "x": {"datum": 182.7, "type": "quantitative", "title": null, "scale": {"domain": [-0.3125, 180.0625], "nice": false, "zero": false}},
  "y": {"field": "v", "type": "quantitative", "title": null, "scale": {"domain": [84.5305, 87.0851], "nice": false, "zero": false}},
  "text": {"field": "v", "type": "quantitative", "format": ".3f"}
 }}
]
}
